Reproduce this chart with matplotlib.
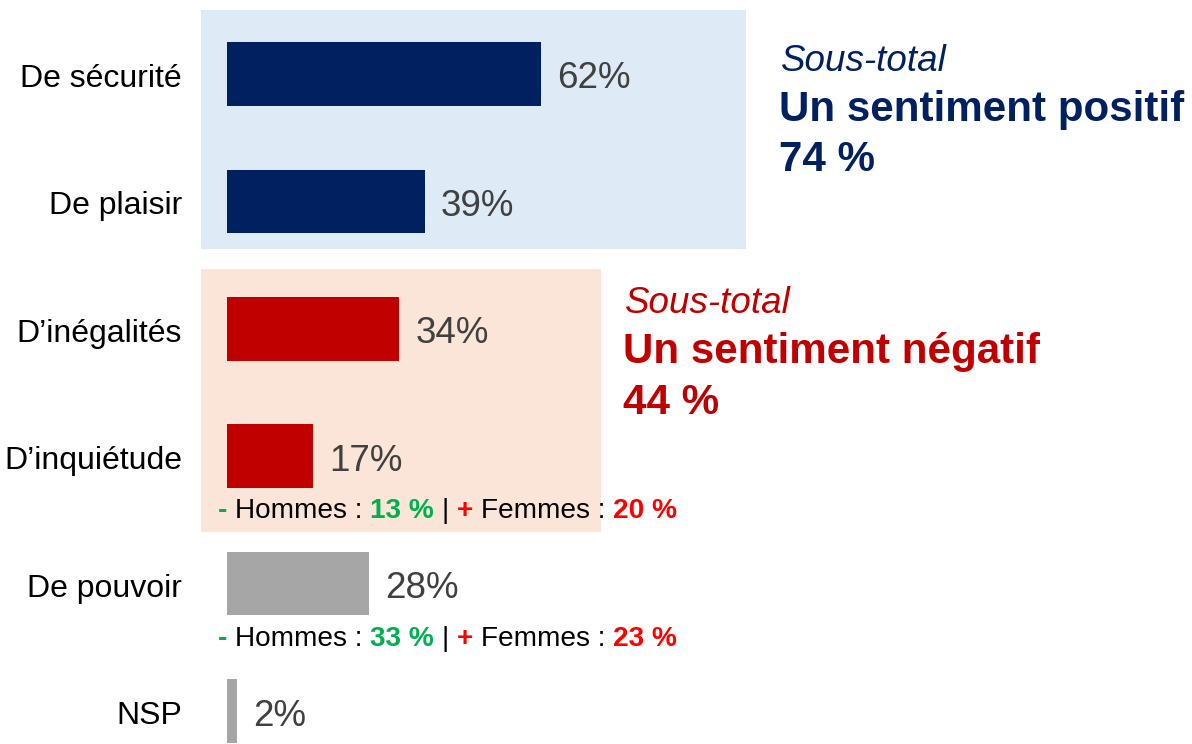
import matplotlib
matplotlib.use("Agg")
import matplotlib.pyplot as plt
from matplotlib.patches import Rectangle

plt.rcParams['font.family'] = ['Liberation Sans', 'DejaVu Sans']

# ---- data ----
categories = ["De sécurité", "De plaisir", "D\u2019inégalités", "D\u2019inquiétude", "De pouvoir", "NSP"]
values = [62, 39, 34, 17, 28, 2]
groups = ["pos", "pos", "neg", "neg", "other", "other"]
subtotal_pos = 74
subtotal_neg = 44
gender_cats = ["D\u2019inquiétude", "De pouvoir"]
men_pct = [13, 33]
women_pct = [20, 23]

# ---- style ----
W, H, DPI = 1192, 744, 100
colors = {"pos": "#002060", "neg": "#C00000", "other": "#A6A6A6"}
NAVY = "#002060"
DARKRED = "#C00000"
GREEN = "#00B050"
RED = "#FF0000"

PX_PER_PCT = 5.065
X0_PX = 227
Y0_PX = 74
ROW_PX = 127.4

fig = plt.figure(figsize=(W / DPI, H / DPI), dpi=DPI)
ax = fig.add_axes([0, 0, 1, 1])
ax.set_xlim(-X0_PX / PX_PER_PCT, (W - X0_PX) / PX_PER_PCT)
ax.set_ylim((H - Y0_PX) / ROW_PX, -Y0_PX / ROW_PX)
ax.axis("off")


def px_to_data(xp, yp):
    return (xp - X0_PX) / PX_PER_PCT, (yp - Y0_PX) / ROW_PX


# background boxes
for (x0p, y0p, x1p, y1p, col) in [(201, 10, 746, 249, "#DEEAF6"),
                                  (201, 269, 601, 532, "#FAE5D8")]:
    x0, y0 = px_to_data(x0p, y0p)
    x1, y1 = px_to_data(x1p, y1p)
    ax.add_patch(Rectangle((x0, y0), x1 - x0, y1 - y0, facecolor=col,
                           edgecolor="none", zorder=0))

ypos = list(range(len(categories)))
ax.barh(ypos, values, height=0.5, color=[colors[g] for g in groups], zorder=2)

lab_x = (182 - X0_PX) / PX_PER_PCT
dy = 5 / ROW_PX
for i, (c, v) in enumerate(zip(categories, values)):
    ax.text(lab_x, i + dy, c, ha="right", va="center", fontsize=23, color="black")
    ax.text(v + 16 / PX_PER_PCT, i + dy, f"{v}%", ha="left", va="center",
            fontsize=26.5, color="#404040")

# subtotal texts
def fig_text(xp, yp, s, **kw):
    return fig.text(xp / W, 1 - yp / H, s, va="baseline", **kw)

fig_text(781, 71, "Sous-total", fontsize=26.5, style="italic", color=NAVY)
fig_text(779, 121, "Un sentiment positif", fontsize=30.3, weight="bold", color=NAVY)
fig_text(779, 171, f"{subtotal_pos} %", fontsize=30.3, weight="bold", color=NAVY)

fig_text(625, 313, "Sous-total", fontsize=26.5, style="italic", color=DARKRED)
fig_text(623, 363, "Un sentiment négatif", fontsize=30.3, weight="bold", color=DARKRED)
fig_text(623, 414, f"{subtotal_neg} %", fontsize=30.3, weight="bold", color=DARKRED)

# gender breakdown (rich text)
renderer = fig.canvas.get_renderer()
FS_G = 20.2
SPACE = 0.278 * FS_G * DPI / 72


def rich(xp, yp, pieces):
    x = xp
    for txt, col, wt, space_after in pieces:
        t = fig.text(x / W, 1 - yp / H, txt, va="baseline", ha="left",
                     fontsize=FS_G, color=col, weight=wt)
        bb = t.get_window_extent(renderer)
        x = bb.x1 + (SPACE if space_after else 0)


for cat, m, f in zip(gender_cats, men_pct, women_pct):
    i = categories.index(cat)
    yc = Y0_PX + ROW_PX * i + 62
    rich(218, yc, [
        ("-", GREEN, "bold", True),
        ("Hommes :", "black", "normal", True),
        (f"{m} %", GREEN, "bold", True),
        ("|", "black", "normal", True),
        ("+", RED, "bold", True),
        ("Femmes :", "black", "normal", True),
        (f"{f} %", RED, "bold", False),
    ])

fig.savefig("out.png", dpi=DPI)
